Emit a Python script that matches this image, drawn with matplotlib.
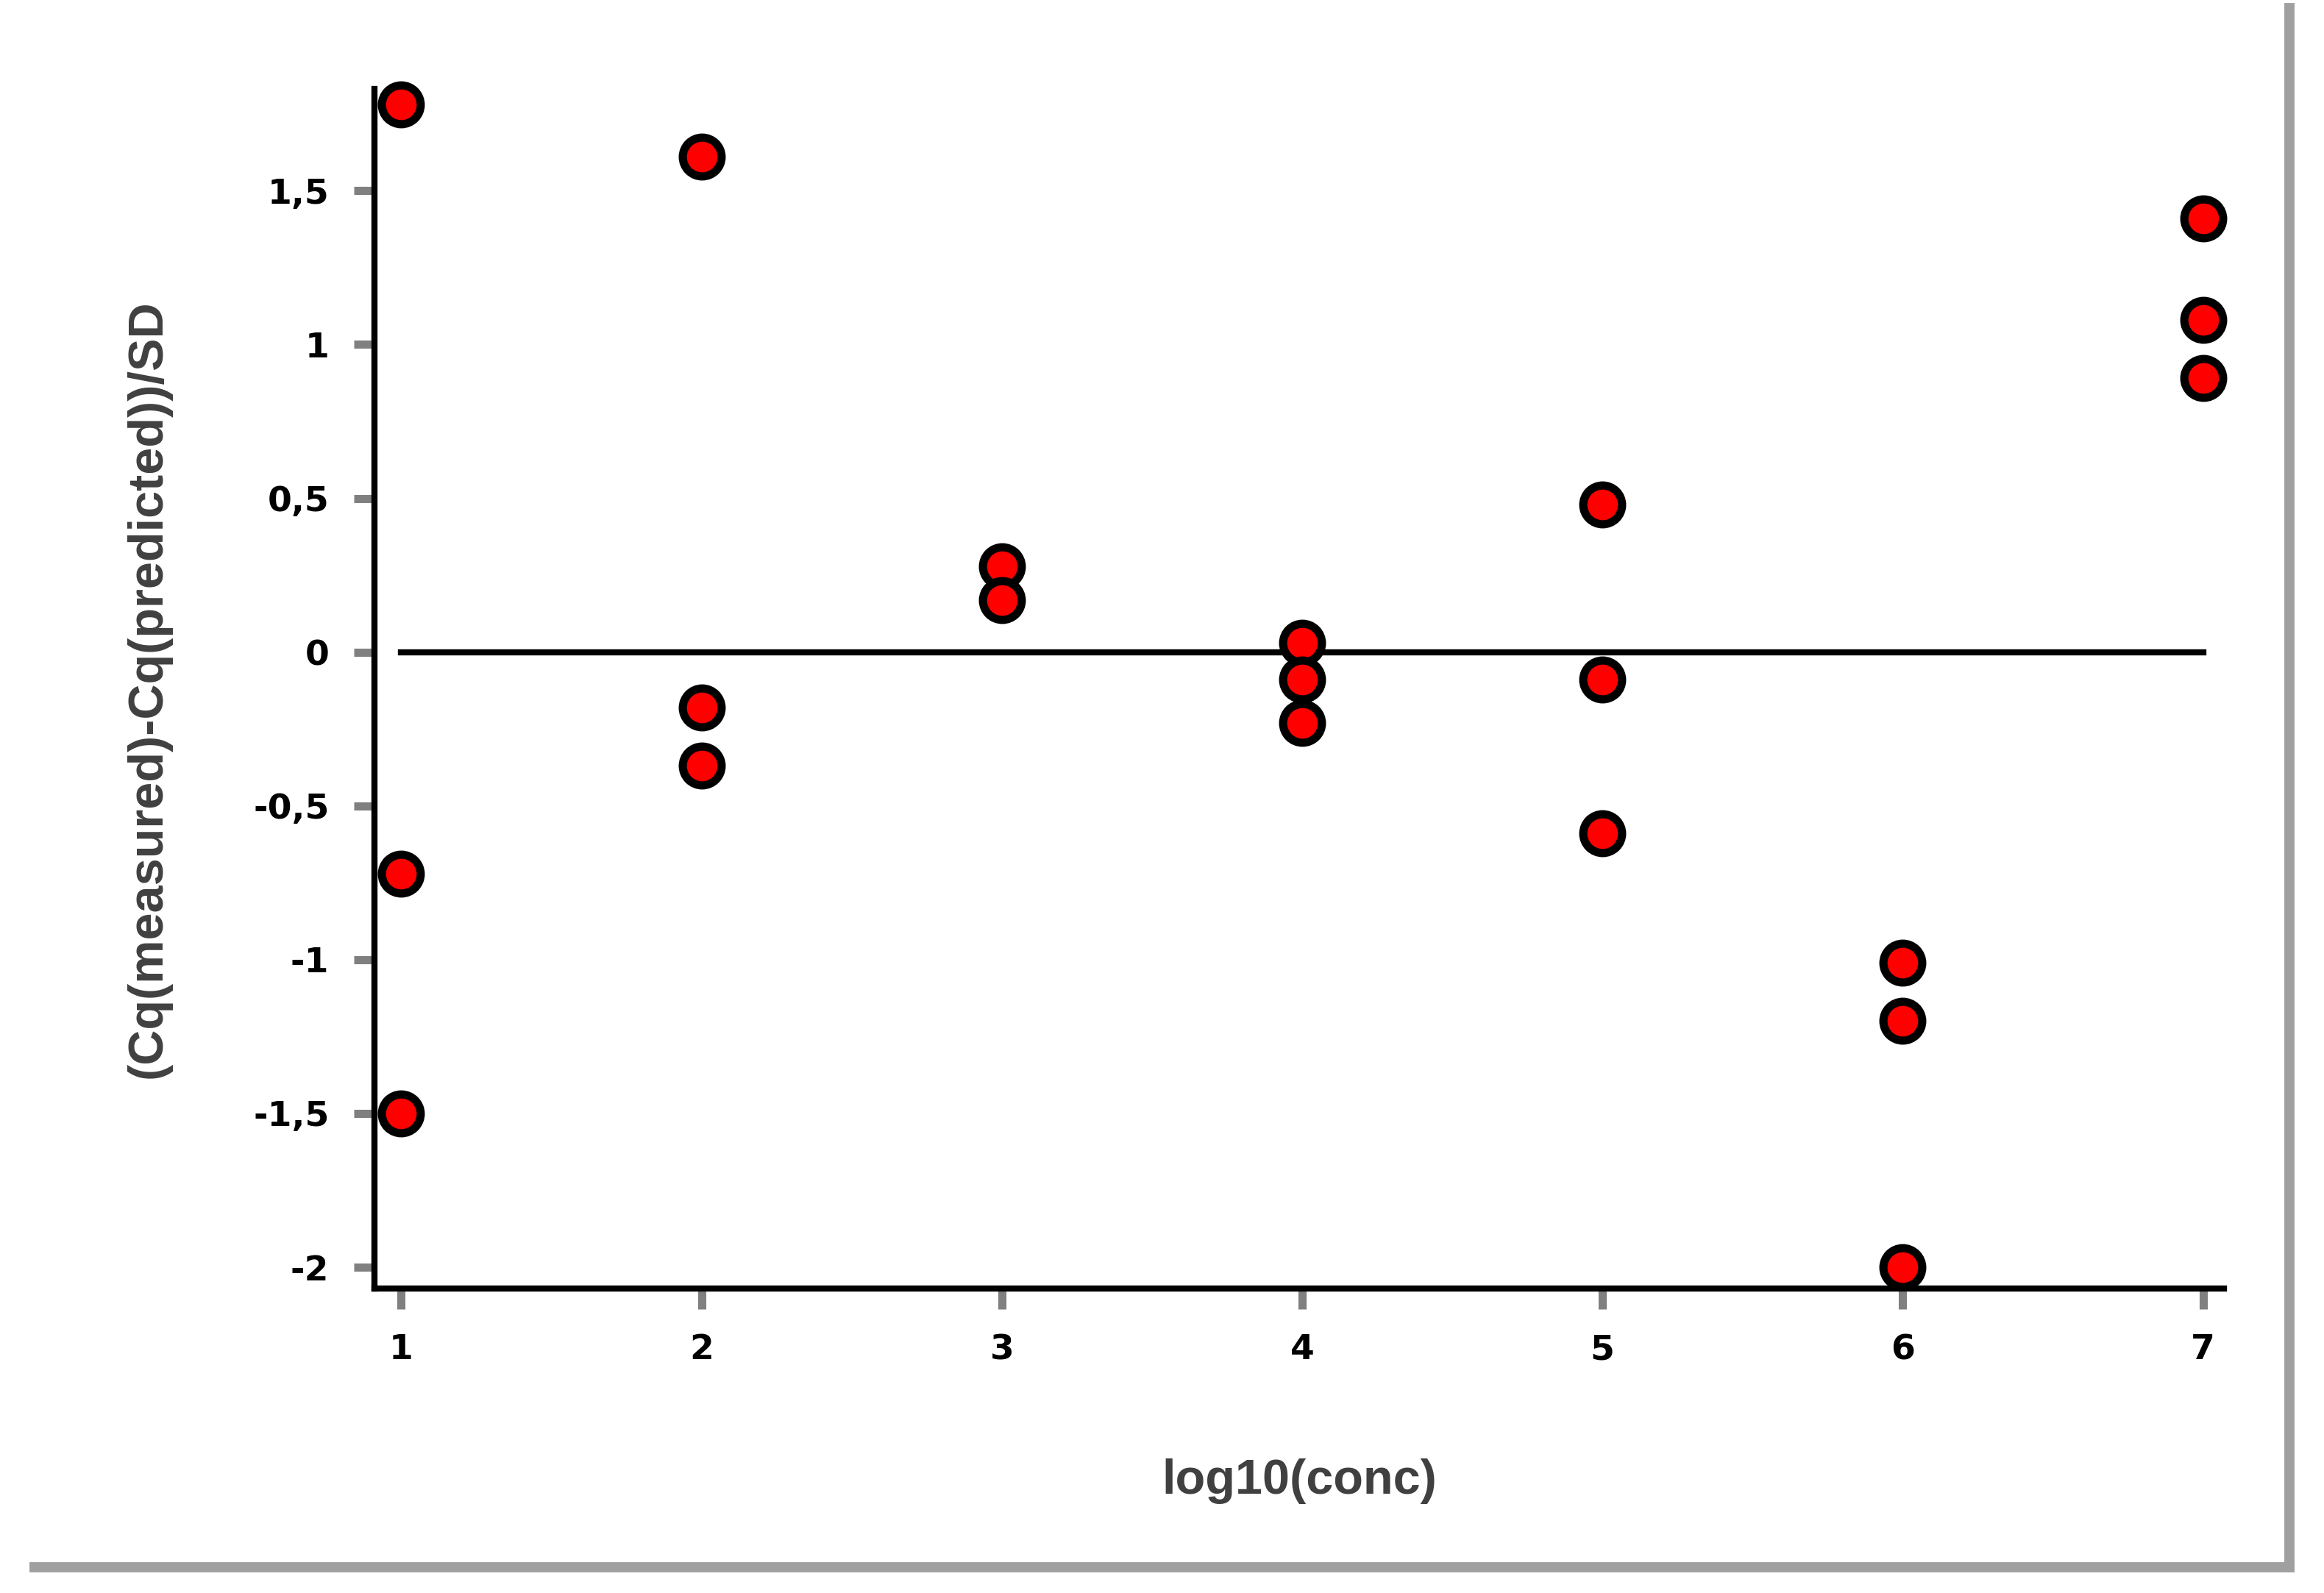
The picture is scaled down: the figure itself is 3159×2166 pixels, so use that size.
import matplotlib.pyplot as plt
from matplotlib.lines import Line2D

# residuals per concentration level
x_vals = [1, 1, 1, 2, 2, 2, 3, 3, 4, 4, 4, 5, 5, 5, 6, 6, 6, 7, 7, 7]
y_vals = [1.78, -0.72, -1.50, 1.61, -0.18, -0.37, 0.28, 0.17,
          0.03, -0.09, -0.23, 0.48, -0.09, -0.59, -1.01, -1.20, -2.00,
          1.41, 1.08, 0.89]
x_ticks = [1, 2, 3, 4, 5, 6, 7]
y_ticks = [-2, -1.5, -1, -0.5, 0, 0.5, 1, 1.5]
y_tick_labels = ["-2", "-1,5", "-1", "-0,5", "0", "0,5", "1", "1,5"]

fig = plt.figure(figsize=(15.795, 10.83), dpi=200)
ax = fig.add_axes([0.161, 0.191, 0.796, 0.753])

ax.plot([1, 7], [0, 0], color="black", lw=3, zorder=2)
ax.plot(x_vals, y_vals, "o", ms=19, mfc="#ff0000", mec="black", mew=4, zorder=3,
        clip_on=False)

ax.set_xlim(0.91, 7.07)
ax.set_ylim(-2.07, 1.83)
ax.set_xticks(x_ticks)
ax.set_xticklabels([str(v) for v in x_ticks])
ax.set_yticks(y_ticks)
ax.set_yticklabels(y_tick_labels)
for lab in ax.get_xticklabels() + ax.get_yticklabels():
    lab.set_fontweight("bold")
    lab.set_fontsize(17)
ax.tick_params(axis="both", direction="out", length=10, width=4, color="#808080", pad=12)

for side in ["top", "right"]:
    ax.spines[side].set_visible(False)
for side in ["left", "bottom"]:
    ax.spines[side].set_linewidth(3)

ax.set_xlabel("log10(conc)", fontsize=24, fontweight="bold", color="#404040",
              family="Liberation Sans", labelpad=45)
ax.set_ylabel("(Cq(measured)-Cq(predicted))/SD", fontsize=24, fontweight="bold",
              color="#404040", family="Liberation Sans", labelpad=40)

# gray frame shadow at bottom and right
fig.add_artist(Line2D([0.015, 0.985], [0.016, 0.016], color="#a0a0a0", lw=5))
fig.add_artist(Line2D([0.985, 0.985], [0.016, 0.995], color="#a0a0a0", lw=5))

fig.savefig("out.png", dpi=200)
